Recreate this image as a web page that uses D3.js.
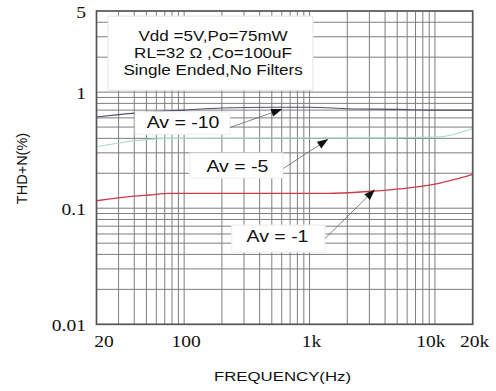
<!DOCTYPE html>
<html><head><meta charset="utf-8">
<script src="https://cdn.jsdelivr.net/npm/d3@7"></script>
<style>body{margin:0;background:#fff}svg{display:block}</style>
</head><body>
<svg id="c" width="496" height="391"></svg>
<script>
// ---- data ----
const freqAv10 = [20, 30, 40, 60, 100, 200, 500, 1000, 2000, 5000, 10000, 20000];
const thdAv10  = [0.61, 0.64, 0.66, 0.68, 0.70, 0.73, 0.74, 0.74, 0.72, 0.71, 0.70, 0.70];
const freqAv5  = [20, 30, 50, 80, 100, 300, 1000, 3000, 5000, 11000, 15000, 20000];
const thdAv5   = [0.338, 0.365, 0.39, 0.40, 0.40, 0.402, 0.403, 0.404, 0.406, 0.412, 0.44, 0.486];
const freqAv1  = [20, 40, 53, 75, 200, 1400, 3100, 5800, 10000, 14400, 20000];
const thdAv1   = [0.116, 0.127, 0.130, 0.134, 0.134, 0.134, 0.140, 0.148, 0.161, 0.177, 0.196];
const xTicks = [20, 100, 1000, 10000, 20000];
const xTickLabels = ["20", "100", "1k", "10k", "20k"];
const yTicks = [0.01, 0.1, 1, 5];
const yTickLabels = ["0.01", "0.1", "1", "5"];
const noteLines = ["Vdd =5V,Po=75mW", "RL=32 \u03A9 ,Co=100uF", "Single Ended,No Filters"];
const seriesLabels = ["Av = -10", "Av = -5", "Av = -1"];

// ---- layout ----
const svg = d3.select("#c");
const X0 = 96.5, X1 = 472.7, Y0 = 324.3, Y1 = 11;
const x = d3.scaleLog().domain([20, 20000]).range([X0, X1]);
const y = d3.scaleLog().domain([0.01, 5]).range([Y0, Y1]);
const SX = 1.22;
const SANS = "Liberation Sans, Arial, sans-serif";
const SERIF = "Liberation Serif, Times New Roman, serif";

// grid
const vGrid = [];
[10, 100, 1000].forEach(d => { for (let k = 1; k <= 9; k++) { const f = d * k; if (f > 20 && f <= 10000) vGrid.push(f); } });
vGrid.push(10000);
const hGrid = [];
[0.01, 0.1, 1].forEach(d => { for (let k = 1; k <= 9; k++) { const v = +(d * k).toPrecision(3); if (v > 0.01 && v < 5) hGrid.push(v); } });
const g = svg.append("g");
g.selectAll(".vg").data(vGrid).join("line")
  .attr("x1", d => x(d)).attr("x2", d => x(d)).attr("y1", Y1).attr("y2", Y0)
  .attr("stroke", "#7e7e7e").attr("stroke-width", 1);
g.selectAll(".hg").data(hGrid).join("line")
  .attr("x1", X0).attr("x2", X1).attr("y1", d => y(d)).attr("y2", d => y(d))
  .attr("stroke", "#7e7e7e").attr("stroke-width", 1);

// curves
const line = d3.line().x(d => x(d[0])).y(d => y(d[1])).curve(d3.curveMonotoneX);
const series = [
  {f: freqAv10, v: thdAv10, c: "#50506e", w: 1.1},
  {f: freqAv5,  v: thdAv5,  c: "#a6dccf", w: 1.1},
  {f: freqAv1,  v: thdAv1,  c: "#cc3a4c", w: 1.3}
];
series.forEach(s => {
  svg.append("path").datum(d3.zip(s.f, s.v)).attr("d", line)
    .attr("fill", "none").attr("stroke", s.c).attr("stroke-width", s.w);
});

// stretched text helper
function stext(parent, cx, by, txt, size, family, anchor) {
  const gg = parent.append("g").attr("transform", `translate(${cx},${by}) scale(${SX},1)`);
  return gg.append("text").attr("text-anchor", anchor || "middle")
    .attr("font-family", family).attr("font-size", size).attr("fill", "#111").text(txt);
}

// note box (data-space corners)
svg.append("rect").attr("x", x(24.7)).attr("y", y(4.52)).attr("width", x(1065) - x(24.7)).attr("height", y(1.04) - y(4.52))
  .attr("fill", "#fff").attr("stroke", "#e4e4e4");
noteLines.forEach((t, i) => stext(svg, x(170), 40.7 + i * 17.2, t, 14, SANS));

// series labels with boxes and arrows (positions in data space)
const labels = [
  {t: seriesLabels[0], box: [40.6, 0.678, 232, 0.433], c: [98, 0.488], from: [232, 0.496], to: [606, 0.714]},
  {t: seriesLabels[1], box: [111, 0.299, 614, 0.182], c: [266, 0.206], from: [617, 0.22], to: [1411, 0.394]},
  {t: seriesLabels[2], box: [239.5, 0.0716, 1328, 0.0419], c: [555, 0.0514], from: [1328, 0.0548], to: [3325, 0.145]}
];
labels.forEach(L => {
  const bx0 = x(L.box[0]), by0 = y(L.box[1]), bx1 = x(L.box[2]), by1 = y(L.box[3]);
  svg.append("rect").attr("x", bx0).attr("y", by0).attr("width", bx1 - bx0).attr("height", by1 - by0)
    .attr("fill", "#fff").attr("stroke", "#ececec");
  stext(svg, x(L.c[0]), y(L.c[1]), L.t, 16, SANS);
  const x1 = x(L.from[0]), y1 = y(L.from[1]), x2 = x(L.to[0]), y2 = y(L.to[1]);
  const ang = Math.atan2(y2 - y1, x2 - x1), len = 11, hw = 4;
  const hx = x2 - len * Math.cos(ang), hy = y2 - len * Math.sin(ang);
  svg.append("line").attr("x1", x1).attr("y1", y1).attr("x2", hx).attr("y2", hy)
    .attr("stroke", "#666").attr("stroke-width", 0.8);
  const p = [[x2, y2], [hx + hw * Math.sin(ang), hy - hw * Math.cos(ang)], [hx - hw * Math.sin(ang), hy + hw * Math.cos(ang)]];
  svg.append("path").attr("d", "M" + p.map(q => q.join(",")).join("L") + "Z").attr("fill", "#111");
});

// frame
svg.append("rect").attr("x", X0).attr("y", Y1).attr("width", X1 - X0).attr("height", Y0 - Y1)
  .attr("fill", "none").attr("stroke", "#555").attr("stroke-width", 1.7);

// x tick labels
const xOff = [7.5, 2, 2, -4, 2];
xTicks.forEach((t, i) => stext(svg, x(t) + xOff[i], 347, xTickLabels[i], 16, SERIF));
// y tick labels
yTicks.forEach((t, i) => stext(svg, 86, y(t) + 6.5, yTickLabels[i], 16, SERIF, "end"));

// axis titles
stext(svg, 282.5, 381, "FREQUENCY(Hz)", 13, SANS).attr("transform", "scale(1.06,1)");
svg.append("text").attr("transform", `translate(26.5,168.5) rotate(-90)`).attr("text-anchor", "middle")
  .attr("font-family", SANS).attr("font-size", 14.5).attr("fill", "#111").text("THD+N(%)");
</script>
</body></html>
